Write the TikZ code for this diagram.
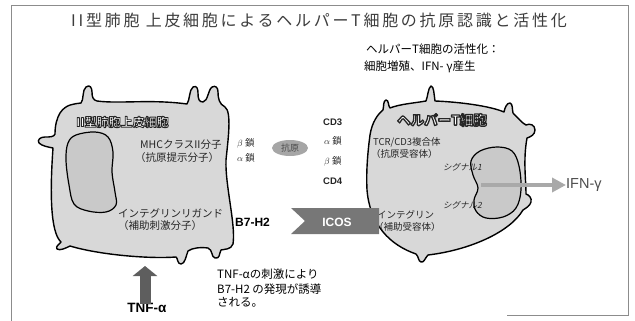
\documentclass[tikz,border=0pt]{standalone}
\usepackage{fontspec}
\setmainfont{Noto Sans CJK JP}
\newfontfamily\latinsans{Liberation Sans}
\usetikzlibrary{arrows.meta, shapes.geometric}

\definecolor{cellfill}{HTML}{D8D8D8}
\definecolor{nucfill}{HTML}{C9C9C9}
\definecolor{framegray}{HTML}{8C8C8C}
\definecolor{titlegray}{HTML}{3C3C3C}
\definecolor{bandgray}{HTML}{777777}
\definecolor{antigengray}{HTML}{A6A6A6}
\definecolor{ifngray}{HTML}{A9A9A9}
\definecolor{tnfgray}{HTML}{5E5E5E}

% white lettering with a dark stroked rim (PDF text render mode 2)
\newcommand{\rimmed}[2]{%
  \special{pdf:literal direct 2 Tr #1 w 1 j 0.15 G}#2\special{pdf:literal direct 0 Tr}}

\tikzset{
  cellline/.style={draw=black, line width=1.4pt, fill=cellfill, line join=round},
  nucline/.style={draw=black, line width=1.2pt, fill=nucfill, line join=round},
  lbl/.style={inner sep=0pt, anchor=west, text=black!85},
  celllbl/.style={lbl, font=\fontsize{10.5}{12}\selectfont},
  tcelllbl/.style={lbl, font=\fontsize{9.5}{11}\selectfont},
  chainlbl/.style={lbl, font=\fontsize{9.5}{11}\selectfont},
  cdlbl/.style={lbl, font=\latinsans\bfseries\fontsize{9.5}{11}\selectfont},
  notelbl/.style={lbl, text=black, font=\fontsize{11.5}{13}\selectfont},
  headlbl/.style={lbl, text=black, font=\fontsize{11.5}{13}\selectfont},
  signallbl/.style={lbl, font=\addfontfeature{FakeSlant=0.2}\fontsize{8.5}{10}\selectfont},
  cellname/.style={inner sep=0pt, anchor=west, text=white, font=\bfseries\fontsize{#1}{#1}\selectfont},
}

\begin{document}
\begin{tikzpicture}[x=1pt, y=-1pt]
\useasboundingbox (0,0) rectangle (635,321);

% border of the panel
\draw[framegray, line width=0.7pt] (11,321) -- (11,5) -- (628,5) -- (628,315) -- (507,315);

% heading
\node[inner sep=0pt, text=titlegray, font=\addfontfeature{LetterSpace=17}\fontsize{16}{18}\selectfont]
  (title) at (319,20) {II型肺胞 上皮細胞によるヘルパーT細胞の抗原認識と活性化};
\node[headlbl] (act1) at (366,49) {ヘルパーT細胞の活性化：};
\node[headlbl] (act2) at (364,67) {細胞増殖、IFN- γ産生};

% alveolar epithelial cell, outline with finger-like protrusions
\draw[cellline]
  (60,113) .. controls (66,104) and (74,104) .. (81,103)
  .. controls (84,100) and (82,90) .. (86,87) .. controls (90,84) and (92,88) .. (92,92)
  .. controls (92,97) and (93,100) .. (97,101)
  .. controls (120,104) and (150,99) .. (187,104)
  .. controls (190,100) and (189,90) .. (193,87) .. controls (197,85) and (198,89) .. (198,93)
  .. controls (198,99) and (199,102) .. (203,102)
  .. controls (208,101) and (208,90) .. (212,87) .. controls (216,85) and (218,88) .. (218,92)
  .. controls (218,98) and (219,104) .. (225,107)
  .. controls (232,112) and (228,140) .. (226,160)
  .. controls (225,185) and (236,225) .. (233,244)
  .. controls (231,250) and (224,249) .. (221,250)
  .. controls (219,254) and (220,259) .. (215,258) .. controls (211,257) and (213,250) .. (208,248)
  .. controls (200,247) and (192,248) .. (188,251)
  .. controls (186,256) and (185,264) .. (181,264) .. controls (177,264) and (178,258) .. (176,257)
  .. controls (150,259) and (100,255) .. (70,246)
  .. controls (66,248) and (60,251) .. (57,249) .. controls (55,246) and (60,244) .. (61,242)
  .. controls (50,232) and (50,190) .. (53,148)
  .. controls (48,147) and (42,146) .. (39,143) .. controls (37,140) and (40,137) .. (45,137)
  .. controls (50,137) and (54,137) .. (55,134)
  .. controls (55,125) and (57,118) .. cycle;
\draw[nucline] plot[smooth cycle, tension=0.6] coordinates {
  (76,135) (95,132) (108,137) (113,152) (112,172) (115,192) (116,205) (106,212)
  (88,211) (74,204) (69,185) (66,160) (68,143)};

% helper T cell, outline with short knobs
\draw[cellline]
  (370,135) .. controls (372,122) and (378,114) .. (383,110)
  .. controls (384,106) and (383,101) .. (386,100) .. controls (389,100) and (388,106) .. (390,108)
  .. controls (400,104) and (415,103) .. (426,101)
  .. controls (428,96) and (428,88) .. (431,86) .. controls (434,86) and (434,95) .. (435,101)
  .. controls (460,102) and (490,106) .. (504,112)
  .. controls (505,107) and (507,103) .. (510,103) .. controls (513,104) and (512,109) .. (513,113)
  .. controls (518,118) and (522,123) .. (526,125)
  .. controls (530,123) and (535,125) .. (535,130) .. controls (535,135) and (530,137) .. (527,138)
  .. controls (523,160) and (526,180) .. (526,194)
  .. controls (529,195) and (532,198) .. (531,202) .. controls (530,206) and (526,208) .. (523,210)
  .. controls (510,232) and (470,250) .. (428,255)
  .. controls (425,258) and (424,263) .. (421,262) .. controls (418,261) and (419,257) .. (416,254)
  .. controls (390,245) and (370,225) .. (367,190)
  .. controls (366,170) and (368,150) .. cycle;
\draw[nucline] plot[smooth cycle, tension=0.6] coordinates {
  (480,151) (497,147) (512,151) (519,166) (521,190) (516,208) (503,217) (486,218)
  (476,211) (474,200) (478,188) (473,175) (471,161)};

% cell names
\node[cellname=12] (epiname) at (76,122) {\rimmed{0.9}{II型肺胞上皮細胞}};
\node[cellname=13.5] (tname) at (397,120) {\rimmed{1.3}{ヘルパーT細胞}};

% molecules of the epithelial cell
\node[celllbl] (mhc)    at (140,145) {MHCクラスII分子};
\node[celllbl] (mhcsub) at (135,158) {（抗原提示分子）};
\node[celllbl] (lig)    at (118,213) {インテグリンリガンド};
\node[celllbl] (ligsub) at (118,226) {（補助刺激分子）};

% molecules of the T cell
\node[tcelllbl] (tcr)    at (373,142) {TCR/CD3複合体};
\node[tcelllbl] (tcrsub) at (371,154) {（抗原受容体）};
\node[tcelllbl] (itg)    at (377,215) {インテグリン};
\node[tcelllbl] (itgsub) at (374,227) {（補助受容体）};
\node[signallbl] (sig1)  at (443,167) {シグナル1};
\node[signallbl] (sig2)  at (443,205) {シグナル2};

% chains and antigen in the gap
\node[chainlbl] (beta1)  at (237,143) {$\beta$ 鎖};
\node[chainlbl] (alpha1) at (237,158) {$\alpha$ 鎖};
\node[ellipse, fill=antigengray, minimum width=36pt, minimum height=16pt, inner sep=0pt,
      text=black!70, font=\fontsize{9}{10}\selectfont] (antigen) at (290,148) {抗原};
\node[cdlbl] (cd3)    at (323,122) {CD3};
\node[chainlbl] (alpha2) at (324,141) {$\alpha$ 鎖};
\node[chainlbl] (beta2)  at (324,161) {$\beta$ 鎖};
\node[cdlbl] (cd4)    at (323,181) {CD4};

% costimulatory pair
\node[lbl, text=black, font=\latinsans\bfseries\fontsize{12}{14}\selectfont] (b7) at (235,222) {B7-H2};
\fill[bandgray] (291,208) -- (379,208) -- (379,234) -- (291,234) -- (305,221) -- cycle;
\node[inner sep=0pt, text=white, font=\latinsans\bfseries\fontsize{12}{14}\selectfont] (icos) at (337,222) {ICOS};

% IFN-gamma release
\coordinate (ifnstart) at (481,185);
\node[lbl, text=black!70, font=\latinsans\fontsize{14.5}{16}\selectfont] (ifn) at (566,185) {IFN-γ};
\draw[ifngray, line width=4pt, -{Triangle[length=14pt, width=14pt]}] (ifnstart) -- (ifn.west);

% TNF-alpha stimulus
\node[inner sep=0pt, text=black, font=\latinsans\bfseries\fontsize{13.5}{15}\selectfont] (tnf) at (147,308) {TNF-α};
\coordinate (tnftip) at (145,266);
\draw[tnfgray, line width=11pt, -{Triangle[length=10pt, width=24pt]}] ([xshift=-2pt, yshift=-1pt]tnf.north) -- (tnftip);

% note on induction
\node[notelbl] (note1) at (217,274) {TNF-αの刺激により};
\node[notelbl] (note2) at (217,289) {B7-H2 の発現が誘導};
\node[notelbl] (note3) at (217,302) {される。};
\end{tikzpicture}
\end{document}
